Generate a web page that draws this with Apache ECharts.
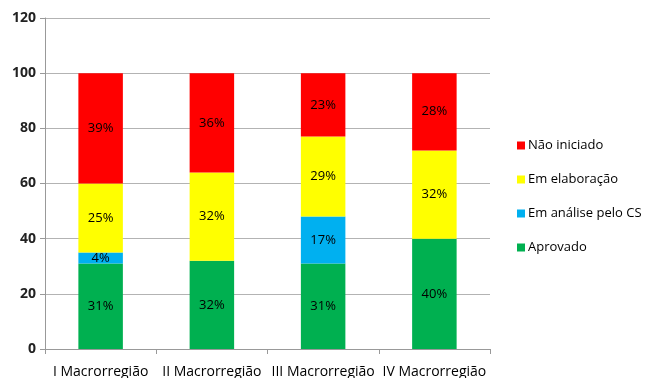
<!DOCTYPE html>
<html>
<head>
<meta charset="utf-8">
<script src="https://cdn.jsdelivr.net/npm/echarts@6/dist/echarts.min.js"></script>
<style>
  html, body { margin: 0; padding: 0; background: #fff; }
  #chart { width: 663px; height: 378px; }
</style>
</head>
<body>
<div id="chart"></div>
<script>
// categorias (eixo x)
const categories = ["I Macrorregião", "II Macrorregião", "III Macrorregião", "IV Macrorregião"];
// altura das barras
const aprovado = [31, 32, 31, 40];
const emAnalise = [4, 0, 17, 0];
const emElaboracao = [25, 32, 29, 32];
const naoIniciado = [40, 36, 23, 28];
// rótulos impressos dentro das barras
const aprovadoLabels = ["31%", "32%", "31%", "40%"];
const emAnaliseLabels = ["4%", "", "17%", ""];
const emElaboracaoLabels = ["25%", "32%", "29%", "32%"];
const naoIniciadoLabels = ["39%", "36%", "23%", "28%"];

const font = "'Open Sans', 'Noto Sans', sans-serif";

const chart = echarts.init(document.getElementById("chart"));

const makeSeries = (name, data, labels, color) => ({
  name: name,
  type: "bar",
  stack: "total",
  barCategoryGap: "60%",
  data: data,
  itemStyle: { color: color },
  label: {
    show: true,
    position: "inside",
    color: "#000",
    fontSize: 13,
    fontFamily: font,
    formatter: (p) => labels[p.dataIndex]
  }
});

chart.setOption({
  animation: false,
  grid: { left: 45, right: 173, top: 18, bottom: 29, outerBoundsMode: "none", containLabel: false },
  legend: {
    orient: "vertical",
    left: 512,
    top: 134,
    itemWidth: 8,
    itemHeight: 8,
    itemGap: 21,
    icon: "rect",
    data: ["Não iniciado", "Em elaboração", "Em análise pelo CS", "Aprovado"],
    textStyle: { fontSize: 13, fontFamily: font, color: "#000", padding: [0, 0, 0, -2] }
  },
  xAxis: {
    type: "category",
    data: categories,
    axisLine: { lineStyle: { color: "#999" } },
    axisTick: { show: true, length: 5, lineStyle: { color: "#999" } },
    axisLabel: { fontSize: 14, fontFamily: font, color: "#000", margin: 16, interval: 0 }
  },
  yAxis: {
    type: "value",
    min: 0,
    max: 120,
    interval: 20,
    axisLine: { show: true, lineStyle: { color: "#999" } },
    axisTick: { show: true, length: 5, lineStyle: { color: "#999" } },
    splitLine: { lineStyle: { color: "#b3b3b3" } },
    axisLabel: { fontSize: 14, fontFamily: font, fontWeight: "bold", color: "#222", margin: 9 }
  },
  series: [
    makeSeries("Aprovado", aprovado, aprovadoLabels, "#00B050"),
    makeSeries("Em análise pelo CS", emAnalise, emAnaliseLabels, "#00B0F0"),
    makeSeries("Em elaboração", emElaboracao, emElaboracaoLabels, "#FFFF00"),
    makeSeries("Não iniciado", naoIniciado, naoIniciadoLabels, "#FF0000")
  ]
});
</script>
</body>
</html>
